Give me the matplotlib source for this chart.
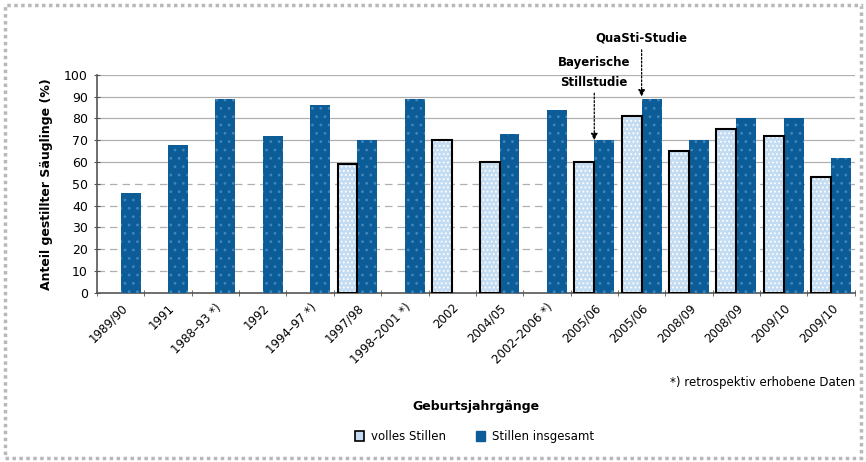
import numpy as np
import matplotlib
matplotlib.use("Agg")
import matplotlib.pyplot as plt
from matplotlib.patches import Rectangle
from matplotlib.ticker import MultipleLocator

plt.rcParams["font.family"] = ["Liberation Sans Narrow", "DejaVu Sans"]
plt.rcParams["hatch.linewidth"] = 0.8

jahrgaenge = [
    "1989/90", "1991", "1988–93 *)", "1992", "1994–97 *)", "1997/98",
    "1998–2001 *)", "2002", "2004/05", "2002–2006 *)", "2005/06", "2005/06",
    "2008/09", "2008/09", "2009/10", "2009/10",
]
volles_stillen = [np.nan, np.nan, np.nan, np.nan, np.nan, 59, np.nan, 70,
                  60, np.nan, 60, 81, 65, 75, 72, 53]
stillen_gesamt = [46, 68, 89, 72, 86, 70, 89, np.nan,
                  73, 84, 70, 89, 70, 80, 80, 62]

dunkel = "#0b5c97"
hell = "#c4dcf2"

fig = plt.figure(figsize=(8.66, 4.62), dpi=100)
ax = fig.add_axes([0.112, 0.366, 0.875, 0.472])

x = np.arange(len(jahrgaenge))
w = 0.42

# volles Stillen (hell, Rahmen)
ax.bar(x - w / 2, volles_stillen, w, color=hell, linewidth=0, zorder=3)
ax.bar(x - w / 2, volles_stillen, w, color="none", edgecolor="white",
       hatch="....", linewidth=0, zorder=3)
ax.bar(x - w / 2, volles_stillen, w, color="none", edgecolor="black",
       linewidth=1.5, zorder=4)
# Stillen insgesamt (dunkel)
ax.bar(x + w / 2, stillen_gesamt, w, color=dunkel, linewidth=0, zorder=3)
ax.bar(x + w / 2, stillen_gesamt, w, color="none", edgecolor="#3f86bd",
       hatch="..", linewidth=0, zorder=3)

ax.set_xlim(-0.5, len(jahrgaenge) - 0.5)
ax.set_ylim(0, 100)
ax.yaxis.set_major_locator(MultipleLocator(10))

# Gitter: oben durchgezogen, unten gestrichelt
for yv in range(10, 101, 10):
    ls = "-" if yv >= 60 else (0, (6, 4))
    ax.axhline(yv, color="#b0b0b0", lw=0.9, ls=ls, zorder=1)

ax.set_xticks(x)
ax.set_xticklabels(jahrgaenge, rotation=45, ha="right", rotation_mode="anchor",
                   fontsize=8.5)
ax.set_xticks(np.arange(-0.5, len(jahrgaenge)), minor=True)
ax.tick_params(axis="x", which="major", length=0, pad=6)
ax.tick_params(axis="x", which="minor", length=5, direction="inout",
               color="#555555")
ax.tick_params(axis="y", length=5, direction="inout", color="#555555",
               labelsize=9, pad=4)

for s in ["top", "right"]:
    ax.spines[s].set_visible(False)
for s in ["left", "bottom"]:
    ax.spines[s].set_color("#555555")
    ax.spines[s].set_linestyle((0, (1, 1)))
    ax.spines[s].set_linewidth(1.2)

ax.set_ylabel("Anteil gestillter Säuglinge (%)", fontsize=9, fontweight="bold",
              labelpad=8)
ax.set_xlabel("Geburtsjahrgänge", fontsize=9, fontweight="bold", labelpad=24)

# Annotationen
ax.annotate("Bayerische\nStillstudie", xy=(10, 70), xytext=(10, 93.5),
            ha="center", va="bottom", fontsize=8.5, fontweight="bold",
            annotation_clip=False, linespacing=1.7,
            arrowprops=dict(arrowstyle="-|>", color="black", lw=0.9,
                            ls=(0, (1.5, 1.5)), mutation_scale=10,
                            shrinkA=1, shrinkB=0))
ax.annotate("QuaSti-Studie", xy=(11, 90), xytext=(11, 114),
            ha="center", va="bottom", fontsize=8.5, fontweight="bold",
            annotation_clip=False,
            arrowprops=dict(arrowstyle="-|>", color="black", lw=0.9,
                            ls=(0, (1.5, 1.5)), mutation_scale=10,
                            shrinkA=2, shrinkB=0))

fig.text(0.988, 0.173, "*) retrospektiv erhobene Daten", ha="right",
         va="center", fontsize=8.5)

handles = [
    Rectangle((0, 0), 1, 1, facecolor=hell, edgecolor="black", lw=1.2),
    Rectangle((0, 0), 1, 1, facecolor=dunkel, edgecolor=dunkel),
]
fig.legend(handles, ["volles Stillen", "Stillen insgesamt"], loc="center",
           bbox_to_anchor=(0.548, 0.055), ncol=2, frameon=False, fontsize=8.5,
           handlelength=0.8, handleheight=0.8, columnspacing=2.5,
           handletextpad=0.6)

# gepunkteter Rahmen
fig.patches.append(Rectangle((0.006, 0.008), 0.988, 0.982,
                             transform=fig.transFigure, fill=False,
                             edgecolor="#b8b8b8", lw=2.5, ls=(0, (1, 1))))

fig.savefig("out.png", dpi=100)
